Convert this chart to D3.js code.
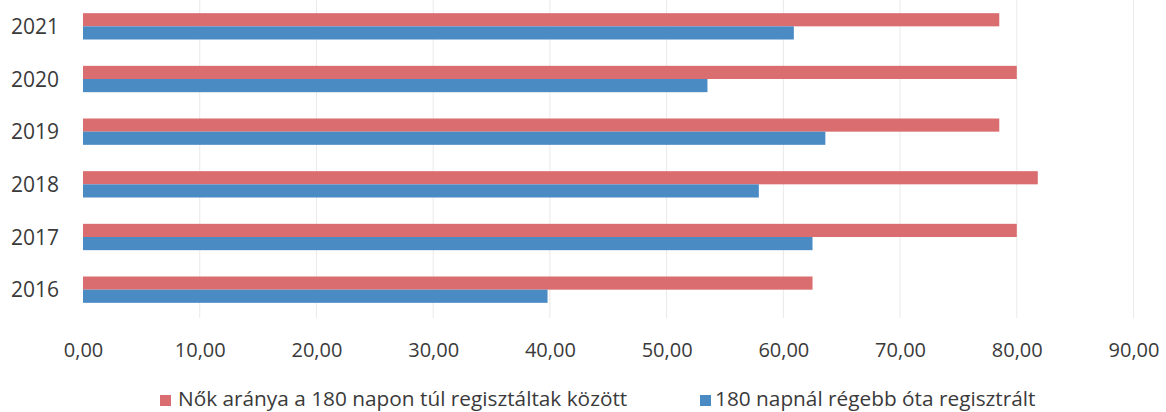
<!DOCTYPE html>
<html>
<head>
<meta charset="utf-8">
<script src="https://cdn.jsdelivr.net/npm/d3@7"></script>
<style>
  html, body { margin: 0; padding: 0; background: #ffffff; }
  svg { display: block; }
  text { font-family: "Open Sans", "Noto Sans", sans-serif; fill: #3a3a3a; }
</style>
</head>
<body>
<svg id="chart" width="1166" height="412"></svg>
<script>
// ---- data ----
const years = ["2021", "2020", "2019", "2018", "2017", "2016"];
const womenShare = [78.5, 80.0, 78.5, 81.8, 80.0, 62.5];   // Nők aránya a 180 napon túl regisztáltak között
const longTerm   = [60.9, 53.5, 63.6, 57.9, 62.5, 39.8];   // 180 napnál régebb óta regisztrált
const tickValues = [0, 10, 20, 30, 40, 50, 60, 70, 80, 90];
const seriesNames = ["Nők aránya a 180 napon túl regisztáltak között", "180 napnál régebb óta regisztrált"];
const seriesColors = ["#d96d6f", "#4b8bc3"];

const svg = d3.select("#chart");

const x = d3.scaleLinear().domain([0, 90]).range([83, 1133.5]);
const y = d3.scaleBand().domain(years).range([0, 316]).paddingInner(0.5).paddingOuter(0.25);
const sub = d3.scaleBand().domain([0, 1]).range([0, y.bandwidth()]);

// gridlines
svg.append("g").selectAll("line").data(tickValues.slice(1)).join("line")
  .attr("x1", d => x(d)).attr("x2", d => x(d))
  .attr("y1", 0).attr("y2", 318)
  .attr("stroke", "#e9e9e9").attr("stroke-width", 1);

// bars
const series = [womenShare, longTerm];
series.forEach((vals, si) => {
  svg.append("g").selectAll("rect").data(years).join("rect")
    .attr("x", x(0))
    .attr("y", (d) => y(d) + sub(si))
    .attr("width", (d, i) => x(vals[i]) - x(0))
    .attr("height", sub.bandwidth())
    .attr("fill", seriesColors[si]);
});

// y axis labels
const yAxis = d3.axisLeft(y).tickSize(0).tickPadding(0);
const yg = svg.append("g").attr("transform", "translate(59,0)").call(yAxis);
yg.select(".domain").remove();
yg.selectAll("text").attr("font-size", "21px").attr("dy", "0.36em")
  .style("font-family", "'Open Sans', sans-serif").attr("fill", "#3a3a3a");

// x axis labels
const fmt = d => d3.format(".2f")(d).replace(".", ",");
const xAxis = d3.axisBottom(x).tickValues(tickValues).tickFormat(fmt).tickSize(0).tickPadding(0);
const xg = svg.append("g").attr("transform", "translate(0,343)").call(xAxis);
xg.select(".domain").remove();
xg.selectAll("text").attr("font-size", "20px").attr("dy", "0.72em")
  .style("font-family", "'Open Sans', sans-serif").attr("fill", "#3a3a3a");

// legend
const legendX = [160, 700];
const lg = svg.append("g");
seriesNames.forEach((name, i) => {
  lg.append("rect").attr("x", legendX[i]).attr("y", 395).attr("width", 11).attr("height", 11)
    .attr("fill", seriesColors[i]);
  lg.append("text").attr("x", legendX[i] + (i === 0 ? 18 : 15)).attr("y", 406)
    .attr("font-size", "20.8px").text(name);
});
</script>
</body>
</html>
